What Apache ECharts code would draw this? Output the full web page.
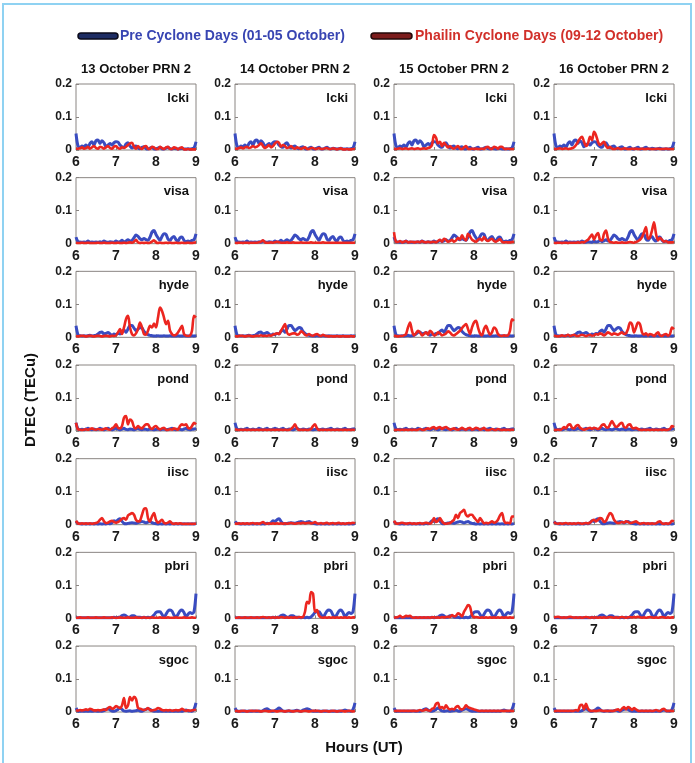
<!DOCTYPE html>
<html>
<head>
<meta charset="utf-8">
<title>DTEC PRN 2</title>
<script src="https://cdn.jsdelivr.net/npm/echarts@6/dist/echarts.min.js"></script>
<style>
  html, body { margin: 0; padding: 0; background: #fff; }
  #chart { width: 695px; height: 763px; }
</style>
</head>
<body>
<div id="chart"></div>
<script>
// Sample times, 3-minute steps from 06:00 to 09:00 UT
const HOURS = Array.from({ length: 61 }, (_, i) => Math.round((6 + i * 0.05) * 100) / 100);

const STATIONS = ['lcki', 'visa', 'hyde', 'pond', 'iisc', 'pbri', 'sgoc'];
const DAY_TITLES = ['13 October PRN 2', '14 October PRN 2', '15 October PRN 2', '16 October PRN 2'];
const X_TICKS = [6, 7, 8, 9];
const Y_TICKS = [0, 0.1, 0.2];
const LEGEND_PRE = 'Pre Cyclone Days (01-05 October)';
const LEGEND_CYC = 'Phailin Cyclone Days (09-12 October)';
const Y_TITLE = 'DTEC (TECu)';
const X_TITLE = 'Hours (UT)';

// ---- lcki ----
const pre_lcki = [
  .050,.012,.008,.012,.010,.015,.008,.020,.025,.015,
  .028,.030,.020,.028,.022,.010,.015,.020,.015,.022,
  .025,.024,.015,.010,.008,.018,.022,.012,.006,.010,
  .012,.006,.004,.008,.010,.004,.003,.006,.008,.003,
  .003,.006,.008,.003,.003,.006,.008,.004,.003,.005,
  .004,.003,.004,.005,.003,.003,.004,.003,.004,.006,
  .025];
const oct13_lcki = [
  .004,.004,.005,.008,.004,.006,.010,.004,.008,.012,
  .006,.004,.010,.008,.004,.008,.012,.006,.004,.010,
  .012,.006,.004,.008,.006,.010,.015,.020,.022,.010,
  .004,.012,.006,.003,.010,.012,.004,.003,.010,.008,
  .003,.003,.010,.006,.003,.008,.010,.003,.003,.008,
  .006,.002,.006,.008,.002,.002,.003,.002,.002,.002,
  .002];
const oct14_lcki = [
  .004,.004,.006,.008,.005,.008,.010,.006,.008,.012,
  .008,.010,.015,.020,.012,.006,.010,.015,.008,.012,
  .020,.025,.022,.010,.015,.012,.006,.008,.012,.006,
  .004,.008,.006,.003,.006,.008,.003,.003,.006,.006,
  .003,.004,.006,.003,.003,.005,.006,.003,.003,.005,
  .004,.002,.004,.005,.002,.002,.003,.002,.002,.003,
  .003];
const oct15_lcki = [
  .004,.003,.004,.005,.003,.004,.005,.003,.004,.005,
  .003,.004,.005,.003,.004,.005,.004,.006,.008,.015,
  .045,.038,.020,.025,.012,.022,.015,.008,.012,.006,
  .004,.008,.012,.004,.003,.008,.012,.004,.003,.004,
  .003,.004,.003,.003,.004,.003,.008,.010,.004,.003,
  .010,.008,.004,.010,.010,.004,.003,.004,.003,.003,
  .003];
const oct16_lcki = [
  .003,.003,.004,.005,.003,.004,.005,.003,.004,.005,
  .008,.015,.025,.035,.040,.025,.012,.020,.040,.030,
  .055,.045,.025,.015,.020,.025,.012,.006,.010,.004,
  .003,.004,.006,.003,.003,.005,.004,.003,.003,.004,
  .003,.004,.003,.003,.004,.003,.003,.004,.003,.003,
  .003,.003,.004,.003,.003,.003,.004,.003,.003,.003,
  .003];

// ---- visa ----
const pre_visa = [
  .020,.006,.005,.004,.005,.004,.008,.004,.005,.004,
  .005,.004,.006,.004,.008,.005,.004,.006,.005,.004,
  .008,.005,.006,.010,.006,.008,.012,.008,.010,.018,
  .026,.022,.015,.012,.016,.012,.010,.020,.035,.040,
  .028,.018,.010,.022,.030,.028,.014,.010,.018,.022,
  .012,.008,.018,.020,.010,.006,.008,.006,.010,.012,
  .030];
const oct13_visa = [
  .003,.002,.002,.003,.002,.002,.003,.002,.002,.002,
  .002,.003,.002,.002,.003,.002,.002,.002,.003,.002,
  .002,.003,.002,.002,.003,.002,.003,.004,.003,.006,
  .012,.004,.002,.003,.002,.003,.002,.003,.006,.010,
  .004,.002,.003,.002,.002,.003,.002,.003,.002,.002,
  .003,.002,.002,.003,.002,.002,.003,.002,.002,.003,
  .004];
const oct14_visa = [
  .003,.002,.003,.003,.002,.003,.003,.002,.003,.003,
  .003,.003,.004,.006,.010,.004,.003,.003,.004,.003,
  .004,.006,.004,.003,.003,.003,.004,.003,.003,.004,
  .003,.003,.003,.004,.003,.003,.003,.003,.004,.003,
  .003,.003,.003,.003,.004,.003,.003,.003,.003,.003,
  .003,.003,.003,.003,.003,.003,.003,.003,.003,.003,
  .003];
const oct15_visa = [
  .035,.006,.005,.008,.004,.006,.008,.004,.005,.006,
  .004,.005,.006,.004,.008,.005,.004,.006,.004,.005,
  .006,.004,.008,.012,.006,.015,.012,.006,.008,.012,
  .006,.010,.018,.012,.025,.015,.010,.030,.022,.012,
  .008,.006,.012,.015,.010,.020,.012,.008,.012,.015,
  .008,.006,.010,.014,.006,.004,.005,.004,.004,.005,
  .006];
const oct16_visa = [
  .003,.002,.003,.003,.002,.003,.003,.002,.003,.003,
  .003,.003,.004,.003,.005,.004,.008,.012,.020,.028,
  .012,.025,.032,.012,.010,.030,.040,.015,.005,.004,
  .003,.004,.003,.003,.004,.003,.003,.004,.005,.004,
  .003,.005,.008,.012,.020,.035,.050,.015,.020,.040,
  .065,.030,.010,.018,.012,.006,.008,.004,.004,.004,
  .005];

// ---- hyde ----
const pre_hyde = [
  .035,.008,.005,.004,.005,.004,.005,.006,.004,.005,
  .006,.010,.015,.016,.010,.012,.015,.010,.006,.010,
  .008,.012,.010,.018,.022,.015,.025,.036,.036,.028,
  .020,.025,.030,.028,.018,.012,.008,.006,.005,.004,
  .004,.005,.004,.004,.005,.004,.004,.005,.004,.004,
  .004,.005,.004,.004,.005,.004,.004,.004,.005,.004,
  .006];
const oct13_hyde = [
  .004,.003,.004,.005,.004,.003,.004,.005,.004,.003,
  .004,.005,.004,.003,.004,.005,.004,.003,.005,.004,
  .006,.015,.025,.010,.030,.055,.065,.030,.010,.006,
  .012,.025,.045,.030,.010,.008,.020,.035,.030,.042,
  .030,.060,.090,.080,.060,.040,.050,.020,.010,.006,
  .008,.015,.025,.035,.010,.005,.004,.005,.020,.065,
  .060];
const oct14_hyde = [
  .004,.003,.004,.005,.004,.003,.004,.005,.004,.003,
  .004,.005,.004,.006,.004,.005,.004,.006,.005,.008,
  .010,.012,.010,.020,.030,.040,.015,.008,.010,.012,
  .012,.008,.010,.018,.015,.008,.006,.010,.006,.005,
  .008,.010,.006,.004,.008,.005,.004,.003,.004,.003,
  .003,.004,.003,.003,.004,.003,.003,.003,.004,.003,
  .003];
const oct15_hyde = [
  .005,.004,.003,.004,.004,.006,.010,.030,.045,.020,
  .006,.012,.020,.015,.006,.010,.015,.008,.020,.015,
  .006,.008,.015,.012,.006,.008,.012,.018,.015,.008,
  .006,.010,.015,.020,.028,.035,.040,.025,.010,.030,
  .045,.050,.030,.012,.006,.025,.035,.020,.008,.015,
  .030,.025,.010,.005,.004,.006,.005,.006,.020,.055,
  .050];
const oct16_hyde = [
  .006,.004,.003,.004,.006,.004,.005,.008,.004,.006,
  .008,.005,.004,.006,.008,.006,.004,.006,.008,.005,
  .006,.010,.008,.012,.010,.006,.010,.015,.012,.008,
  .012,.010,.008,.012,.015,.010,.012,.025,.045,.040,
  .015,.030,.045,.040,.015,.008,.012,.006,.010,.008,
  .004,.010,.015,.006,.004,.008,.010,.005,.010,.030,
  .025];

// ---- pond ----
const pre_pond = [
  .025,.006,.004,.005,.004,.006,.008,.005,.004,.006,
  .004,.005,.008,.006,.004,.006,.008,.005,.004,.006,
  .008,.006,.004,.006,.008,.005,.004,.006,.005,.004,
  .006,.008,.005,.004,.006,.005,.004,.006,.005,.004,
  .005,.006,.004,.005,.006,.004,.005,.006,.008,.005,
  .004,.006,.005,.004,.006,.008,.005,.004,.005,.006,
  .008];
const oct13_pond = [
  .025,.005,.004,.003,.004,.005,.004,.006,.008,.005,
  .004,.006,.005,.004,.006,.008,.005,.004,.008,.012,
  .020,.010,.008,.015,.040,.045,.020,.035,.030,.012,
  .008,.015,.010,.008,.015,.020,.020,.010,.006,.012,
  .015,.008,.005,.008,.010,.004,.003,.006,.004,.008,
  .006,.004,.015,.020,.018,.020,.010,.008,.015,.025,
  .020];
const oct14_pond = [
  .005,.004,.003,.004,.003,.004,.003,.004,.003,.004,
  .003,.004,.003,.004,.003,.004,.003,.004,.003,.004,
  .003,.004,.003,.004,.003,.004,.003,.004,.006,.012,
  .020,.008,.003,.004,.003,.004,.003,.004,.006,.015,
  .020,.008,.003,.004,.003,.004,.003,.004,.003,.004,
  .003,.004,.003,.004,.003,.004,.003,.004,.003,.004,
  .003];
const oct15_pond = [
  .004,.003,.004,.003,.004,.003,.004,.003,.004,.003,
  .004,.003,.004,.006,.004,.003,.006,.008,.006,.010,
  .012,.006,.010,.012,.006,.010,.012,.008,.004,.006,
  .008,.005,.004,.006,.010,.006,.004,.008,.010,.004,
  .006,.010,.008,.004,.006,.010,.004,.003,.004,.006,
  .004,.003,.006,.004,.003,.004,.003,.004,.003,.004,
  .004];
const oct16_pond = [
  .004,.003,.004,.003,.006,.012,.008,.018,.020,.010,
  .008,.015,.018,.010,.006,.004,.006,.008,.010,.006,
  .010,.008,.006,.010,.018,.020,.012,.010,.020,.030,
  .020,.012,.015,.022,.025,.012,.010,.018,.020,.010,
  .008,.010,.006,.004,.003,.004,.003,.004,.003,.004,
  .003,.004,.003,.004,.003,.004,.003,.004,.006,.015,
  .012];

// ---- iisc ----
const pre_iisc = [
  .010,.004,.003,.002,.003,.002,.003,.002,.003,.002,
  .003,.002,.003,.002,.003,.002,.004,.003,.006,.012,
  .010,.015,.018,.010,.004,.003,.004,.005,.006,.005,
  .004,.006,.008,.010,.008,.006,.008,.010,.006,.004,
  .003,.002,.003,.002,.003,.002,.003,.002,.003,.002,
  .003,.002,.003,.002,.003,.002,.003,.002,.003,.002,
  .004];
const oct13_iisc = [
  .012,.004,.003,.004,.003,.004,.003,.004,.003,.004,
  .005,.008,.015,.020,.010,.005,.006,.010,.012,.008,
  .006,.008,.012,.018,.020,.015,.028,.032,.035,.030,
  .015,.010,.012,.030,.048,.050,.020,.010,.025,.035,
  .015,.006,.010,.015,.006,.004,.006,.010,.004,.003,
  .004,.003,.004,.003,.002,.003,.002,.003,.002,.003,
  .003];
const oct14_iisc = [
  .004,.003,.004,.003,.004,.003,.004,.003,.004,.005,
  .003,.004,.003,.005,.008,.004,.003,.004,.003,.004,
  .003,.004,.003,.004,.003,.004,.003,.004,.005,.004,
  .003,.004,.005,.004,.006,.004,.005,.006,.004,.005,
  .008,.004,.003,.005,.003,.004,.006,.003,.004,.005,
  .003,.004,.006,.003,.004,.003,.004,.005,.004,.006,
  .004];
const oct15_iisc = [
  .012,.004,.003,.004,.006,.004,.003,.004,.005,.003,
  .004,.003,.004,.005,.003,.004,.006,.004,.003,.008,
  .020,.008,.012,.020,.010,.004,.003,.004,.005,.010,
  .015,.030,.020,.035,.040,.045,.030,.025,.030,.030,
  .022,.015,.008,.020,.012,.004,.006,.004,.006,.010,
  .006,.008,.015,.028,.035,.012,.005,.006,.004,.025,
  .025];
const oct16_iisc = [
  .008,.004,.003,.004,.003,.004,.005,.003,.004,.003,
  .004,.003,.005,.004,.003,.004,.005,.004,.006,.012,
  .015,.010,.015,.020,.018,.008,.012,.025,.035,.030,
  .015,.008,.005,.006,.008,.006,.010,.008,.005,.006,
  .008,.010,.006,.003,.004,.005,.003,.004,.003,.004,
  .003,.004,.008,.010,.004,.003,.004,.003,.005,.012,
  .010];

// ---- pbri ----
const pre_pbri = [
  .002,.002,.002,.002,.002,.002,.002,.002,.002,.002,
  .002,.002,.002,.002,.002,.002,.002,.002,.002,.003,
  .002,.003,.004,.008,.010,.008,.003,.004,.008,.008,
  .004,.003,.003,.002,.003,.002,.003,.002,.004,.010,
  .018,.020,.020,.012,.004,.012,.022,.025,.022,.010,
  .004,.012,.022,.025,.018,.005,.012,.018,.015,.020,
  .075];
const oct13_pbri = [
  .002,.002,.003,.002,.002,.002,.003,.002,.002,.002,
  .003,.002,.002,.002,.003,.002,.002,.002,.003,.002,
  .002,.002,.003,.002,.002,.002,.003,.002,.002,.002,
  .003,.002,.002,.002,.003,.002,.002,.002,.003,.002,
  .002,.002,.003,.002,.002,.002,.003,.002,.002,.002,
  .003,.002,.002,.002,.003,.002,.002,.002,.003,.002,
  .002];
const oct14_pbri = [
  .002,.002,.003,.002,.002,.003,.002,.002,.003,.002,
  .002,.003,.002,.003,.004,.003,.002,.003,.002,.003,
  .002,.003,.002,.004,.003,.002,.003,.002,.003,.002,
  .003,.002,.004,.003,.004,.020,.050,.045,.080,.075,
  .020,.025,.008,.003,.002,.003,.002,.003,.002,.003,
  .002,.003,.002,.003,.002,.003,.002,.003,.002,.003,
  .003];
const oct15_pbri = [
  .002,.003,.004,.008,.003,.004,.008,.006,.008,.003,
  .002,.003,.002,.003,.002,.003,.002,.003,.002,.003,
  .003,.002,.003,.002,.004,.003,.004,.005,.004,.010,
  .006,.008,.015,.012,.006,.020,.030,.040,.035,.010,
  .003,.004,.003,.002,.003,.002,.003,.002,.003,.002,
  .003,.002,.003,.002,.003,.002,.003,.002,.003,.002,
  .003];
const oct16_pbri = [
  .003,.004,.005,.003,.002,.003,.002,.003,.005,.003,
  .002,.003,.002,.003,.002,.003,.004,.003,.002,.003,
  .002,.003,.002,.003,.002,.003,.002,.003,.004,.003,
  .002,.003,.002,.003,.004,.003,.002,.003,.004,.003,
  .004,.003,.005,.003,.002,.003,.002,.003,.004,.003,
  .002,.003,.002,.003,.004,.003,.002,.003,.002,.003,
  .003];

// ---- sgoc ----
const pre_sgoc = [
  .012,.003,.002,.003,.002,.003,.002,.003,.002,.003,
  .003,.002,.003,.002,.004,.008,.010,.006,.003,.002,
  .004,.008,.012,.008,.003,.002,.003,.004,.002,.003,
  .004,.005,.003,.002,.006,.008,.010,.008,.004,.002,
  .003,.002,.003,.002,.003,.002,.003,.002,.003,.002,
  .003,.002,.003,.002,.004,.006,.004,.003,.002,.008,
  .028];
const oct13_sgoc = [
  .006,.004,.006,.005,.006,.008,.006,.010,.008,.005,
  .005,.006,.005,.006,.008,.006,.012,.015,.010,.012,
  .018,.015,.012,.020,.042,.012,.020,.045,.035,.046,
  .040,.012,.010,.008,.006,.008,.012,.006,.005,.006,
  .008,.012,.010,.006,.005,.006,.005,.006,.004,.005,
  .006,.005,.006,.010,.006,.004,.005,.004,.005,.006,
  .008];
const oct14_sgoc = [
  .004,.003,.002,.003,.004,.003,.002,.003,.004,.003,
  .003,.004,.003,.002,.003,.004,.003,.002,.003,.004,
  .003,.002,.003,.004,.003,.002,.003,.004,.003,.002,
  .003,.004,.003,.002,.003,.004,.003,.002,.003,.004,
  .003,.004,.003,.002,.003,.004,.003,.002,.003,.004,
  .003,.002,.003,.004,.003,.002,.003,.004,.003,.002,
  .003];
const oct15_sgoc = [
  .005,.003,.004,.003,.004,.003,.004,.003,.004,.003,
  .004,.003,.004,.006,.004,.005,.008,.005,.004,.010,
  .012,.025,.028,.012,.015,.010,.020,.012,.008,.010,
  .008,.015,.018,.010,.008,.012,.020,.015,.012,.010,
  .008,.006,.004,.003,.004,.003,.004,.003,.004,.003,
  .004,.003,.004,.003,.004,.003,.004,.003,.004,.003,
  .004];
const oct16_sgoc = [
  .004,.003,.004,.003,.004,.003,.004,.003,.004,.003,
  .004,.006,.004,.020,.022,.008,.025,.010,.004,.003,
  .004,.003,.004,.005,.004,.003,.004,.003,.004,.003,
  .004,.006,.008,.004,.010,.015,.008,.015,.012,.006,
  .012,.008,.004,.003,.004,.003,.004,.003,.004,.003,
  .004,.006,.004,.003,.008,.010,.004,.003,.004,.003,
  .004];

// Lookup tables: one pre-cyclone reference per station, one cyclone-day curve per station and day
const PRE = [pre_lcki, pre_visa, pre_hyde, pre_pond, pre_iisc, pre_pbri, pre_sgoc];
const CYCLONE = [
  [oct13_lcki, oct14_lcki, oct15_lcki, oct16_lcki],
  [oct13_visa, oct14_visa, oct15_visa, oct16_visa],
  [oct13_hyde, oct14_hyde, oct15_hyde, oct16_hyde],
  [oct13_pond, oct14_pond, oct15_pond, oct16_pond],
  [oct13_iisc, oct14_iisc, oct15_iisc, oct16_iisc],
  [oct13_pbri, oct14_pbri, oct15_pbri, oct16_pbri],
  [oct13_sgoc, oct14_sgoc, oct15_sgoc, oct16_sgoc]
];

// ---- layout ----
const FONT = '"Liberation Sans", Arial, Helvetica, sans-serif';
const COL_LEFT = [76, 235, 394, 554];
const PLOT_W = 120;
const ROW_TOP0 = 84;
const ROW_STEP = 93.67;
const PLOT_H = 66;
const BLUE = '#3a4cc0';
const RED = '#ec2620';
const BOX = '#8a8582';

const grids = [], xAxes = [], yAxes = [], series = [], graphics = [];

STATIONS.forEach((station, r) => {
  const top = ROW_TOP0 + r * ROW_STEP;
  DAY_TITLES.forEach((day, c) => {
    const left = COL_LEFT[c];
    const k = grids.length;
    grids.push({
      left: left, top: top, width: PLOT_W, height: PLOT_H,
      show: true, borderColor: BOX, borderWidth: 1, backgroundColor: '#fff'
    });
    xAxes.push({
      type: 'value', gridIndex: k, min: X_TICKS[0], max: X_TICKS[X_TICKS.length - 1], interval: 1,
      axisLine: { show: false },
      axisTick: { show: true, inside: true, length: 3, lineStyle: { color: BOX } },
      splitLine: { show: false },
      axisLabel: {
        margin: 5, fontSize: 14, fontWeight: 'bold', color: '#1a1a1a', fontFamily: FONT,
        formatter: v => String(Math.round(v))
      }
    });
    yAxes.push({
      type: 'value', gridIndex: k, min: Y_TICKS[0], max: Y_TICKS[Y_TICKS.length - 1], interval: 0.1,
      axisLine: { show: false },
      axisTick: { show: true, inside: true, length: 3, lineStyle: { color: BOX } },
      splitLine: { show: false },
      axisLabel: {
        margin: 4, fontSize: 12, fontWeight: 'bold', color: '#1a1a1a', fontFamily: FONT,
        formatter: v => (v === 0 ? '0' : v.toFixed(1))
      }
    });
    series.push({
      name: LEGEND_PRE, type: 'line', xAxisIndex: k, yAxisIndex: k,
      data: HOURS.map((h, i) => [h, PRE[r][i]]),
      showSymbol: false, smooth: 0.3, clip: true, z: 2,
      lineStyle: { color: BLUE, width: 3 }, itemStyle: { color: BLUE }
    });
    series.push({
      name: LEGEND_CYC, type: 'line', xAxisIndex: k, yAxisIndex: k,
      data: HOURS.map((h, i) => [h, CYCLONE[r][c][i]]),
      showSymbol: false, smooth: 0.3, clip: true, z: 3,
      lineStyle: { color: RED, width: 2.6 }, itemStyle: { color: RED }
    });
    // station name in the upper right corner of each panel
    graphics.push({
      type: 'text', x: left + PLOT_W - 7, y: top + 14, z: 10,
      style: { text: station, fill: '#111', font: 'bold 13px ' + FONT, textAlign: 'right', textVerticalAlign: 'middle' }
    });
  });
});

// column headings
DAY_TITLES.forEach((day, c) => {
  graphics.push({
    type: 'text', x: COL_LEFT[c] + PLOT_W / 2, y: 69,
    style: { text: day, fill: '#111', font: 'bold 13px ' + FONT, textAlign: 'center', textVerticalAlign: 'middle' }
  });
});

// figure frame
graphics.push({
  type: 'rect', shape: { x: 3, y: 4, width: 688, height: 780 },
  style: { fill: 'none', stroke: '#8fd2f2', lineWidth: 2 }, z: 0
});

// legend keys
graphics.push(
  { type: 'rect', shape: { x: 78, y: 33, width: 40, height: 6, r: 3 },
    style: { fill: '#1d2c63', stroke: '#0a0a1a', lineWidth: 1.5 } },
  { type: 'text', x: 120, y: 36,
    style: { text: LEGEND_PRE, fill: '#3845b2', font: 'bold 14px ' + FONT, textVerticalAlign: 'middle' } },
  { type: 'rect', shape: { x: 371, y: 33, width: 41, height: 6, r: 3 },
    style: { fill: '#7c1c1c', stroke: '#220808', lineWidth: 1.5 } },
  { type: 'text', x: 415, y: 36,
    style: { text: LEGEND_CYC, fill: '#d1302a', font: 'bold 14px ' + FONT, textVerticalAlign: 'middle' } }
);

// shared axis titles
graphics.push(
  { type: 'text', x: 31, y: 400, rotation: Math.PI / 2,
    style: { text: Y_TITLE, fill: '#111', font: 'bold 15px ' + FONT, textAlign: 'center', textVerticalAlign: 'middle' } },
  { type: 'text', x: 364, y: 748,
    style: { text: X_TITLE, fill: '#111', font: 'bold 15px ' + FONT, textAlign: 'center', textVerticalAlign: 'middle' } }
);

const chart = echarts.init(document.getElementById('chart'), null, { renderer: 'canvas' });
chart.setOption({
  animation: false,
  backgroundColor: '#fff',
  grid: grids,
  xAxis: xAxes,
  yAxis: yAxes,
  series: series,
  graphic: graphics
});
</script>
</body>
</html>
